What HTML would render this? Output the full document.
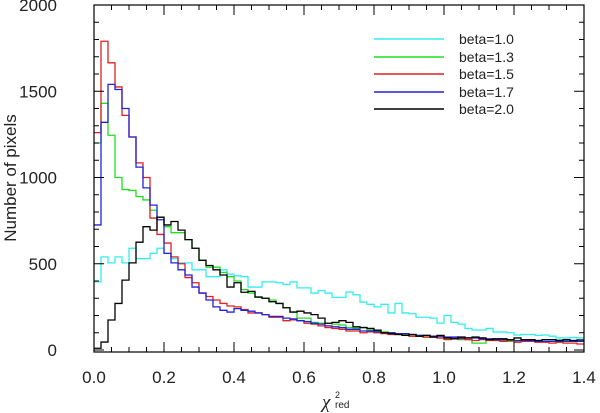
<!DOCTYPE html>
<html><head><meta charset="utf-8"><style>
body{margin:0;background:#fff;}
svg{display:block;font-family:"Liberation Sans",sans-serif;}
</style></head><body>
<svg id="chart" width="600" height="413"></svg>
<script>
const binWidth = 0.02;
const seriesNames = ["beta=1.0","beta=1.3","beta=1.5","beta=1.7","beta=2.0"];
const seriesColors = ["#33eeee","#22dd22","#dd2222","#2222dd","#000000"];
const cyanValues = [395,540,505,540,505,590,530,530,560,590,560,530,505,505,465,465,425,425,465,440,430,425,365,365,395,395,390,380,395,360,360,330,345,330,305,305,336,320,278,265,250,265,215,270,215,210,190,190,185,156,200,160,150,125,116,116,125,104,104,100,87,90,90,85,87,80,70,70,72,70];
const greenValues = [1200,1430,1245,1000,930,925,890,870,810,770,715,680,680,640,590,520,480,480,450,425,400,350,330,307,300,290,270,245,220,185,185,160,155,155,150,145,130,127,130,116,110,105,100,95,90,80,85,75,80,70,65,65,60,60,40,40,60,55,55,50,50,50,55,55,50,50,58,55,55,58];
const redValues = [1260,1790,1665,1525,1360,1235,1085,1000,765,670,620,540,500,420,390,330,310,290,270,255,250,235,215,215,205,190,190,170,175,170,155,150,140,130,125,120,110,110,100,105,100,95,90,90,85,80,80,75,75,70,60,70,65,60,55,60,55,55,50,55,45,50,50,45,45,40,45,40,40,35];
const blueValues = [725,1320,1540,1510,1400,1235,1060,940,840,755,560,505,465,435,365,330,290,250,230,220,240,230,225,215,205,195,195,185,180,170,165,155,150,140,135,130,120,120,110,110,105,100,100,95,95,90,85,85,80,80,75,75,70,70,70,65,65,60,60,60,55,55,55,50,50,50,50,50,50,50];
const blackValues = [10,46,174,270,405,505,625,715,695,770,725,745,695,640,590,520,490,465,435,365,390,335,340,307,300,280,270,245,220,225,215,205,185,155,160,170,160,135,130,125,115,100,95,90,85,90,80,85,75,85,70,65,75,70,75,70,60,65,65,60,70,60,60,55,60,60,55,60,55,58];
const allSeries = [cyanValues,greenValues,redValues,blueValues,blackValues];
const xTicks = [0,0.2,0.4,0.6,0.8,1.0,1.2,1.4];
const xTickLabels = ["0.0","0.2","0.4","0.6","0.8","1.0","1.2","1.4"];
const yTicks = [0,500,1000,1500,2000];
const yTickLabels = ["0","500","1000","1500","2000"];

const L=94,R=584,T=5,B=352;
const xs = v => L + (v/1.4)*(R-L);
const ys = v => 350 - v*(345/2000);
const svg = document.getElementById('chart');
const NS='http://www.w3.org/2000/svg';
function mk(tag, attrs, parent){const e=document.createElementNS(NS,tag);for(const k in attrs)e.setAttribute(k,attrs[k]);(parent||svg).appendChild(e);return e;}

allSeries.forEach((vals,si)=>{
  let d='';
  vals.forEach((v,i)=>{
    const x0=xs(i*binWidth), x1=xs((i+1)*binWidth), y=ys(v);
    d += (i===0?'M'+x0+','+y:'V'+y)+'H'+x1;
  });
  const p=mk('path',{d:d,fill:'none',stroke:seriesColors[si],'stroke-width':1.3});
  
  
});

const fr=mk('rect',{x:L,y:T,width:R-L,height:B-T,fill:'none',stroke:'#000','stroke-width':1.2});



for(let k=0;k<=28;k++){
  const v=k*0.05, x=xs(v), maj=(k%4===0), len=maj?10:5;
  mk('line',{x1:x,x2:x,y1:B,y2:B-len,stroke:'#000','stroke-width':1});
  mk('line',{x1:x,x2:x,y1:T,y2:T+len,stroke:'#000','stroke-width':1});
}
xTicks.forEach((v,i)=>{
  const t=mk('text',{x:xs(v),y:383,'text-anchor':'middle','font-size':17,fill:'#222'});
  t.textContent=xTickLabels[i];
  
  
});
for(let v=0;v<=2000;v+=100){
  const y=ys(v), len=(v%500===0)?10:5;
  mk('line',{x1:L,x2:L+len,y1:y,y2:y,stroke:'#000','stroke-width':1});
  mk('line',{x1:R,x2:R-len,y1:y,y2:y,stroke:'#000','stroke-width':1});
}
yTicks.forEach((v,i)=>{
  const t=mk('text',{x:57,y:ys(v)+6,'text-anchor':'end','font-size':17,fill:'#222'});
  t.textContent=yTickLabels[i];
  
  
});
const yt=mk('text',{x:16,y:178,'text-anchor':'middle','font-size':17,fill:'#222',transform:'rotate(-90 16 178)'});
yt.textContent='Number of pixels';


const xt=mk('text',{x:322,y:408,'font-size':19,fill:'#222','font-style':'italic','font-family':'Liberation Serif, serif'});
xt.textContent='χ';


const xs2=mk('text',{x:335,y:398,'font-size':9,fill:'#222'});xs2.textContent='2';


const xs3=mk('text',{x:335,y:408,'font-size':10,fill:'#222'});xs3.textContent='red';



const legY=[39,57,74,92,109];
seriesNames.forEach((n,i)=>{
  const g=mk('g',{});
  
  
  mk('line',{x1:374,x2:444,y1:legY[i],y2:legY[i],stroke:seriesColors[i],'stroke-width':1.5},g);
  const t=mk('text',{x:459,y:legY[i]+5,'font-size':14,fill:'#222'},g);
  t.textContent=n;
});
</script>
</body></html>
